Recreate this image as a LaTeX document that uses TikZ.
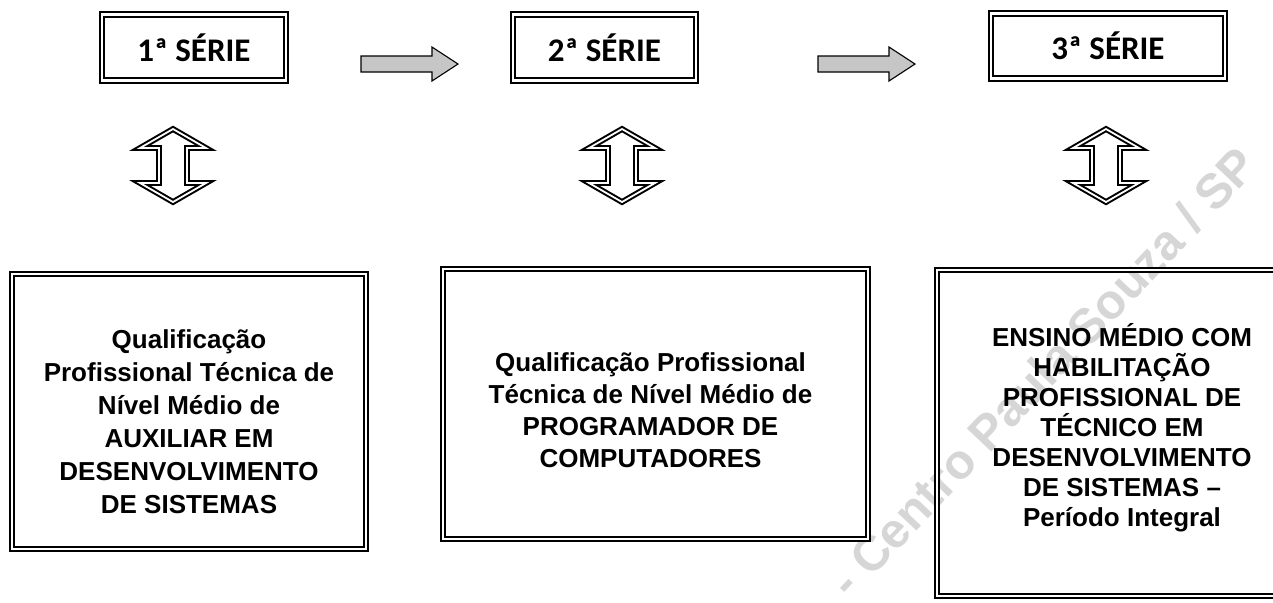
\documentclass[tikz,border=0pt]{standalone}
\usepackage{fontspec}
\setmainfont{Liberation Sans}
\newfontfamily\carlito{Carlito}
\tikzset{
  moldura/.style = {draw, double, double distance=1.1pt, line width=1pt, inner sep=0pt},
  serie/.style   = {moldura, minimum height=33pt,
                    font=\carlito\bfseries\fontsize{16.5}{19}\selectfont},
  quali/.style   = {moldura},
  texto/.style   = {align=center, inner sep=0pt, font=\bfseries\fontsize{13}{#1}\selectfont},
  texto/.default = 16,
  pics/seta/.style = {code={
    \filldraw[fill=gray!45, line width=0.55pt]
      (0,-8) -- (71,-8) -- (71,-17) -- (97,0) -- (71,17) -- (71,8) -- (0,8) -- cycle;}},
  pics/vaivem/.style = {code={
    \draw[double, double distance=0.9pt, line width=1pt]
      (0,-36.5) -- (33,-17.5) -- (14,-17.5) -- (14,17.5) -- (33,17.5) -- (0,36.5)
      -- (-33,17.5) -- (-14,17.5) -- (-14,-17.5) -- (-33,-17.5) -- cycle;}}
}
\begin{document}
\begin{tikzpicture}[x=0.5pt, y=-0.5pt]
  \path[use as bounding box] (0,0) rectangle (1273,602);
  \clip (0,0) rectangle (1273,602);

  % marca d'agua
  \node[rotate=46.6, text=gray!32, font=\bfseries\fontsize{24.5}{24.5}\selectfont]
    (marca) at (1043,372) {- Centro Paula Souza / SP};

  % series
  \node[serie, minimum width=92pt]  (s1) at (194,47.5)  {1ª SÉRIE};
  \node[serie, minimum width=91.5pt] (s2) at (604.5,47.5) {2ª SÉRIE};
  \node[serie, minimum width=117pt, minimum height=32.5pt] (s3) at (1108,46) {3ª SÉRIE};

  \pic at (361,64) {seta};
  \pic at (818,64) {seta};

  \pic at (173,165.5)  {vaivem};
  \pic at (622,165.5)  {vaivem};
  \pic at (1106,165.5) {vaivem};

  % qualificacoes
  \node[quali, minimum width=177pt, minimum height=137.5pt] (q1) at (189,411.5) {};
  \node[quali, minimum width=212.5pt, minimum height=135pt] (q2) at (655.5,404) {};
  \node[quali, minimum width=185pt, minimum height=163pt]   (q3) at (1122,433)  {};

  \node[texto=16.5] (t1) at ([yshift=-5pt]q1.center)
    {Qualificação\\Profissional Técnica de\\Nível Médio de\\AUXILIAR EM\\DESENVOLVIMENTO\\DE SISTEMAS};
  \node[texto=16] (t2) at ([xshift=-2.5pt, yshift=-3pt]q2.center)
    {Qualificação Profissional\\Técnica de Nível Médio de\\PROGRAMADOR DE\\COMPUTADORES};
  \node[texto=15] (t3) at ([yshift=2.5pt]q3.center)
    {ENSINO MÉDIO COM\\HABILITAÇÃO\\PROFISSIONAL DE\\TÉCNICO EM\\DESENVOLVIMENTO\\DE SISTEMAS –\\Período Integral};
\end{tikzpicture}
\end{document}
